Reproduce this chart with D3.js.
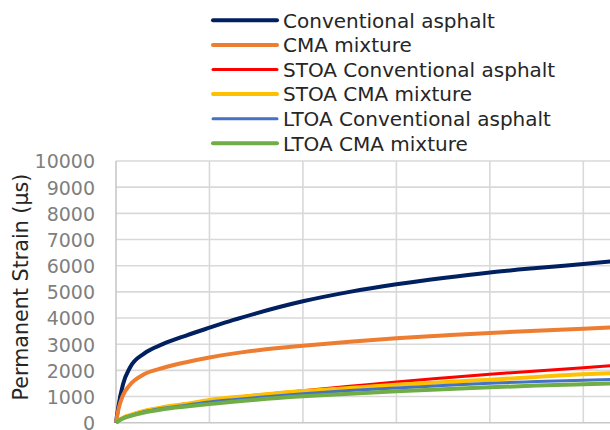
<!DOCTYPE html>
<html>
<head>
<meta charset="utf-8">
<script src="https://cdn.jsdelivr.net/npm/d3@7"></script>
<style>
  html, body { margin: 0; padding: 0; background: #fff; }
  svg { display: block; }
</style>
</head>
<body>
<svg id="chart" width="610" height="430"></svg>
<script>
// ---- data ----
const cycles = [0, 50, 150, 300, 600, 1000, 1500, 2000, 2500, 3000, 4000, 5000, 6000, 7000, 8000, 9000, 10000, 10600];
const seriesNames = ["Conventional asphalt", "CMA mixture", "STOA Conventional asphalt", "STOA CMA mixture", "LTOA Conventional asphalt", "LTOA CMA mixture"];
const conventional = [0, 610, 1470, 2110, 2640, 3000, 3330, 3630, 3920, 4180, 4640, 5000, 5290, 5530, 5740, 5910, 6065, 6160];
const cma          = [0, 490, 1050, 1450, 1850, 2090, 2310, 2490, 2640, 2760, 2940, 3090, 3225, 3330, 3430, 3510, 3590, 3645];
const stoaConv     = [0, 80, 190, 290, 450, 590, 720, 860, 960, 1050, 1220, 1390, 1560, 1710, 1850, 1980, 2100, 2180];
const stoaCma      = [0, 80, 190, 290, 450, 590, 720, 870, 970, 1050, 1210, 1330, 1450, 1550, 1640, 1750, 1850, 1890];
const ltoaConv     = [0, 75, 175, 270, 420, 550, 670, 790, 880, 960, 1110, 1230, 1330, 1420, 1510, 1570, 1620, 1650];
const ltoaCma      = [0, 65, 160, 250, 390, 515, 620, 710, 800, 880, 1010, 1110, 1200, 1280, 1350, 1420, 1470, 1495];
const yTicks = [0, 1000, 2000, 3000, 4000, 5000, 6000, 7000, 8000, 9000, 10000];
const xTicks = [0, 2000, 4000, 6000, 8000, 10000];
const yTitle = "Permanent Strain (μs)";

const allSeries = [conventional, cma, stoaConv, stoaCma, ltoaConv, ltoaCma];
const colors = ["#002060", "#ED7D31", "#FF0000", "#FFC000", "#4472C4", "#70AD47"];
const widths = [4, 4, 3, 4, 3, 4];

// ---- layout ----
const svg = d3.select("#chart");
const W = 610, H = 430;
const plotLeft = 116, plotBottom = 422.7, plotTop = 161;
const x = d3.scaleLinear().domain([0, 10000]).range([plotLeft, 583.3]);
const y = d3.scaleLinear().domain([0, 10000]).range([plotBottom, plotTop]);
const font = "'DejaVu Sans', sans-serif";

// gridlines
const grid = svg.append("g");
grid.selectAll("line.h").data(yTicks.filter(d => d > 0)).join("line")
  .attr("class", "h")
  .attr("x1", plotLeft).attr("x2", W).attr("y1", d => y(d)).attr("y2", d => y(d))
  .attr("stroke", "#d9d9d9").attr("stroke-width", 1.6);
grid.selectAll("line.v").data(xTicks.filter(d => d > 0)).join("line")
  .attr("class", "v")
  .attr("x1", d => x(d)).attr("x2", d => x(d)).attr("y1", plotTop).attr("y2", plotBottom)
  .attr("stroke", "#d9d9d9").attr("stroke-width", 1.6);

// y axis labels via d3 axis
const yAxis = d3.axisLeft(y).tickValues(yTicks).tickSize(0).tickPadding(0).tickFormat(d3.format("d"));
const yg = svg.append("g").attr("transform", `translate(${plotLeft - 21},0)`).call(yAxis);
yg.select(".domain").remove();
yg.selectAll("text").attr("font-family", font).attr("font-size", 19).attr("fill", "#7f7f7f").attr("dy", "0.36em");

// axis lines
svg.append("line").attr("x1", plotLeft).attr("x2", plotLeft).attr("y1", plotTop).attr("y2", plotBottom)
  .attr("stroke", "#c8c8c8").attr("stroke-width", 1.6);
svg.append("line").attr("x1", plotLeft).attr("x2", W).attr("y1", plotBottom).attr("y2", plotBottom)
  .attr("stroke", "#c8c8c8").attr("stroke-width", 1.6);

// lines
svg.append("clipPath").attr("id", "clip").append("rect")
  .attr("x", plotLeft - 5).attr("y", 0).attr("width", W - plotLeft + 5).attr("height", plotBottom + 5);
const line = d3.line().x((d, i) => x(cycles[i])).y(d => y(d)).curve(d3.curveMonotoneX);
svg.append("g").attr("clip-path", "url(#clip)").selectAll("path").data(allSeries).join("path")
  .attr("d", d => line(d)).attr("fill", "none")
  .attr("stroke", (d, i) => colors[i]).attr("stroke-width", (d, i) => widths[i])
  .attr("stroke-linejoin", "round");

// y title
const yt = svg.append("text").attr("transform", "translate(28,287) rotate(-90)")
  .attr("text-anchor", "middle").attr("font-family", font).attr("font-size", 20)
  .attr("fill", "#262626").text(yTitle);
{
  const w = yt.node().getComputedTextLength();
  yt.attr("font-size", 20 * 227 / w);
}

// legend
const lg = svg.append("g");
const rowY = i => 20.3 + i * 24.6;
lg.selectAll("line").data(seriesNames).join("line")
  .attr("x1", 213).attr("x2", 277).attr("y1", (d, i) => rowY(i)).attr("y2", (d, i) => rowY(i))
  .attr("stroke", (d, i) => colors[i]).attr("stroke-width", (d, i) => widths[i]).attr("stroke-linecap", "round");
const lt = lg.selectAll("text").data(seriesNames).join("text")
  .attr("x", 283).attr("y", (d, i) => rowY(i)).attr("dy", "0.36em")
  .attr("font-family", font).attr("font-size", 17).attr("fill", "#262626").text(d => d);
{
  const w = lt.nodes()[0].getComputedTextLength();
  lt.attr("font-size", 17 * 212 / w);
}
</script>
</body>
</html>
